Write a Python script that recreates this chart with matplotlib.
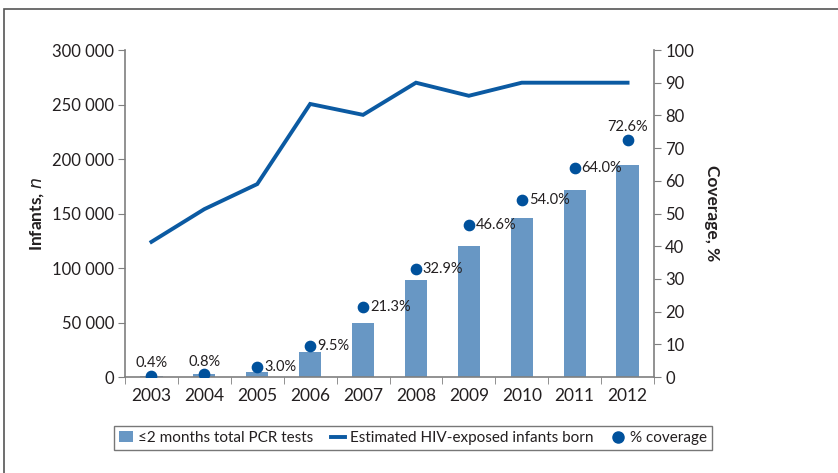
import matplotlib
matplotlib.use("Agg")
import matplotlib.pyplot as plt
from matplotlib.lines import Line2D
from matplotlib.patches import Patch, Rectangle
import numpy as np

years = ["2003", "2004", "2005", "2006", "2007", "2008", "2009", "2010", "2011", "2012"]
pcr_tests = [1200, 2500, 5000, 23000, 49500, 89000, 120000, 146000, 171500, 194500]
hiv_exposed = [124000, 154000, 177000, 250500, 240500, 270000, 258000, 270000, 270000, 270000]
coverage = [0.4, 0.8, 3.0, 9.5, 21.3, 32.9, 46.6, 54.0, 64.0, 72.6]
coverage_labels = ["0.4%", "0.8%", "3.0%", "9.5%", "21.3%", "32.9%", "46.6%", "54.0%", "64.0%", "72.6%"]
left_ticks = [0, 50000, 100000, 150000, 200000, 250000, 300000]
left_ticklabels = ["0", "50 000", "100 000", "150 000", "200 000", "250 000", "300 000"]
right_ticks = [0, 10, 20, 30, 40, 50, 60, 70, 80, 90, 100]

plt.rcParams['font.family'] = ['Lato', 'DejaVu Sans']

bar_color = "#6897c4"
line_color = "#0b5aa2"
dot_color = "#00519c"
spine_color = "#7f7f7f"
text_color = "#231f20"

fig = plt.figure(figsize=(8.38, 4.73), dpi=100)
# outer frame (top and left edges visible)
fig.patches.append(Rectangle((4/838, -0.2), 1.2, 1 - 9/473 + 0.2, transform=fig.transFigure,
                             fill=False, edgecolor="#555555", linewidth=1.2))

ax = fig.add_axes([125/838, 1 - 377/473, (654 - 125)/838, (377 - 50)/473])
x = np.arange(len(years))
ax.bar(x, pcr_tests, width=0.42, color=bar_color, zorder=2)
ax.plot(x, hiv_exposed, color=line_color, linewidth=2.8, zorder=3, solid_joinstyle='miter')
ax.set_xlim(-0.5, len(years) - 0.5)
ax.set_ylim(0, 300000)
ax.set_yticks(left_ticks)
ax.set_yticklabels(left_ticklabels)
ax.set_xticks(x)
ax.set_xticklabels(years)
ax.set_xticks(np.arange(-0.5, len(years), 1), minor=True)
ax.tick_params(axis='x', which='major', length=0, pad=8, labelsize=12.5, labelcolor=text_color)
ax.tick_params(axis='x', which='minor', length=5, color=spine_color, direction='out')
ax.tick_params(axis='y', length=5, color=spine_color, labelsize=12, labelcolor=text_color, pad=3)
for s in ["top", "right"]:
    ax.spines[s].set_visible(False)
for s in ["left", "bottom"]:
    ax.spines[s].set_color(spine_color)
    ax.spines[s].set_linewidth(1.2)
ax.set_ylabel("Infants, $\\mathit{n}$", fontsize=12.5, fontweight='bold', color=text_color, labelpad=4)

ax2 = ax.twinx()
ax2.set_ylim(0, 100)
ax2.set_yticks(right_ticks)
ax2.scatter(x, coverage, s=55, color=dot_color, zorder=5)
for s in ["top", "left", "bottom"]:
    ax2.spines[s].set_visible(False)
ax2.spines["right"].set_color(spine_color)
ax2.spines["right"].set_linewidth(1.2)
ax2.tick_params(axis='y', length=5, color=spine_color, labelsize=12, labelcolor=text_color, pad=3)
ax2.set_ylabel("Coverage, %", fontsize=12.5, fontweight='bold', color=text_color, rotation=-90, labelpad=19)

for i, (v, lab) in enumerate(zip(coverage, coverage_labels)):
    if i in (0, 1, 9):
        ax2.annotate(lab, (x[i], v), xytext=(0, 4), textcoords='offset points',
                     ha='center', va='bottom', fontsize=10.5, color=text_color)
    else:
        ax2.annotate(lab, (x[i], v), xytext=(5, 0), textcoords='offset points',
                     ha='left', va='center', fontsize=10.5, color=text_color)

handles = [Patch(facecolor=bar_color, edgecolor='none'),
           Line2D([0], [0], color=line_color, linewidth=2.8),
           Line2D([0], [0], marker='o', linestyle='none', color=dot_color, markersize=8)]
labels = ["\u22642 months total PCR tests", "Estimated HIV-exposed infants born", "% coverage"]
leg = fig.legend(handles, labels, loc='center', bbox_to_anchor=(413/838, 1 - 438/473), ncol=3,
                 frameon=True, fancybox=False, edgecolor="#555555", fontsize=11,
                 handlelength=0.9, handletextpad=0.3, columnspacing=1.2, borderpad=0.35)
leg.get_frame().set_linewidth(1.0)
for t in leg.get_texts():
    t.set_color(text_color)

fig.savefig("out.png", dpi=100)
